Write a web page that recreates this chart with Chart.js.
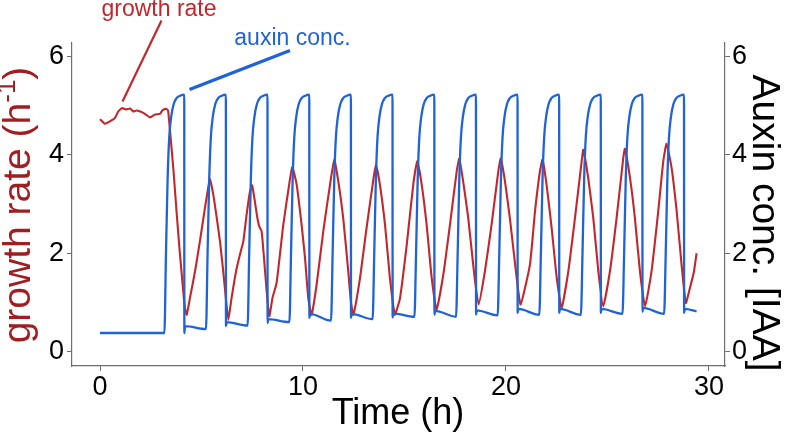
<!DOCTYPE html>
<html>
<head>
<meta charset="utf-8">
<script src="https://cdn.jsdelivr.net/npm/chart.js@4.4.1/dist/chart.umd.min.js"></script>
<style>
  html, body { margin: 0; padding: 0; background: #ffffff; }
  #wrap { width: 787px; height: 435px; position: relative; }
  canvas { display: block; }
</style>
</head>
<body>
<div id="wrap"><canvas id="c" width="787" height="435" style="width:787px;height:435px"></canvas></div>
<script>
// ---------------- data ----------------
const xTicks = [0, 10, 20, 30];
const yTicks = [0, 2, 4, 6];

// growth rate (h^-1), left axis
const growthTime = [
  0.00, 0.24, 0.49, 0.74, 0.90, 1.10, 1.26, 1.48, 1.64, 1.80, 2.05, 2.21, 2.46, 2.71, 2.95, 3.07, 3.20, 3.31, 3.36,
  3.45, 3.61, 3.77, 3.94, 4.10, 4.18, 4.27,
  4.43, 4.68, 4.92, 5.17, 5.38, 5.42,
  5.58, 5.75, 5.91, 6.07, 6.20, 6.32,
  6.48, 6.70, 6.89, 7.06, 7.22, 7.39, 7.49,
  7.63, 7.75, 7.84, 7.96, 8.08, 8.21, 8.34,
  8.50, 8.70, 9.03, 9.27, 9.47,
  9.69, 9.93, 10.10, 10.26, 10.42,
  10.67, 11.00, 11.33, 11.54,
  11.74, 11.98, 12.23, 12.36, 12.48,
  12.81, 13.13, 13.43, 13.59,
  13.79, 14.04, 14.28, 14.42, 14.53,
  14.78, 15.11, 15.43, 15.63,
  15.85, 16.09, 16.34, 16.58,
  16.91, 17.24, 17.57, 17.70,
  17.89, 18.14, 18.42, 18.65,
  18.96, 19.29, 19.62, 19.74,
  19.95, 20.19, 20.49, 20.72,
  21.18, 21.43, 21.67, 21.80,
  22.00, 22.25, 22.50, 22.74,
  23.07, 23.40, 23.73, 23.81,
  24.05, 24.30, 24.55, 24.79,
  25.12, 25.45, 25.78, 25.86,
  26.11, 26.35, 26.60, 26.85,
  27.17, 27.50, 27.75, 27.91,
  28.16, 28.41, 28.65, 28.86,
  29.06, 29.26, 29.39
];
const growthRate = [
  4.72, 4.63, 4.68, 4.75, 4.88, 4.95, 4.92, 4.94, 4.88, 4.90, 4.87, 4.83, 4.76, 4.82, 4.83, 4.90, 4.93, 4.92, 4.88,
  4.48, 3.73, 2.85, 1.97, 1.23, 0.89, 0.75,
  1.09, 1.63, 2.24, 2.92, 3.46, 3.50,
  3.19, 2.72, 2.24, 1.63, 1.09, 0.65,
  1.09, 1.63, 1.97, 2.24, 2.78, 3.26, 3.38,
  3.05, 2.72, 2.55, 2.45, 1.90, 1.23, 0.72,
  1.10, 1.40, 2.58, 3.26, 3.75,
  3.39, 2.58, 1.90, 1.09, 0.75,
  1.36, 2.45, 3.39, 3.90,
  3.46, 2.72, 1.63, 1.02, 0.75,
  1.50, 2.51, 3.39, 3.80,
  3.39, 2.58, 1.50, 1.02, 0.75,
  1.09, 2.17, 3.39, 3.88,
  3.39, 2.58, 1.50, 0.85,
  1.56, 2.58, 3.66, 3.92,
  3.46, 2.72, 1.63, 0.96,
  1.63, 2.58, 3.66, 3.92,
  3.46, 2.72, 1.63, 0.96,
  1.77, 2.85, 3.66, 3.90,
  3.39, 2.51, 1.50, 0.89,
  1.63, 2.72, 3.87, 4.10,
  3.53, 2.72, 1.63, 0.92,
  1.63, 2.72, 3.94, 4.12,
  3.53, 2.72, 1.63, 0.92,
  1.63, 2.85, 3.87, 4.22,
  3.73, 2.85, 1.77, 0.99,
  1.29, 1.63, 2.00
];

// auxin concentration [IAA], right axis
const auxinTime = [
  0.00, 3.17,
  3.25, 3.33, 3.41, 3.51, 3.63, 3.77, 3.95, 4.15, 4.155, 4.19, 5.22,
  5.30, 5.38, 5.46, 5.56, 5.68, 5.82, 6.00, 6.20, 6.205, 6.24, 7.27,
  7.35, 7.43, 7.51, 7.61, 7.73, 7.87, 8.05, 8.25, 8.255, 8.29, 9.33,
  9.41, 9.49, 9.57, 9.67, 9.79, 9.93, 10.11, 10.31, 10.315, 10.35, 11.38,
  11.46, 11.54, 11.62, 11.72, 11.84, 11.98, 12.16, 12.36, 12.365, 12.40, 13.43,
  13.51, 13.59, 13.67, 13.77, 13.89, 14.03, 14.21, 14.41, 14.415, 14.45, 15.49,
  15.57, 15.65, 15.73, 15.83, 15.95, 16.09, 16.27, 16.47, 16.475, 16.51, 17.54,
  17.62, 17.70, 17.78, 17.88, 18.00, 18.14, 18.32, 18.52, 18.525, 18.56, 19.59,
  19.67, 19.75, 19.83, 19.93, 20.05, 20.19, 20.37, 20.57, 20.575, 20.61, 21.64,
  21.72, 21.80, 21.88, 21.98, 22.10, 22.24, 22.42, 22.62, 22.625, 22.66, 23.69,
  23.77, 23.85, 23.93, 24.03, 24.15, 24.29, 24.47, 24.67, 24.675, 24.71, 25.74,
  25.82, 25.90, 25.98, 26.08, 26.20, 26.34, 26.52, 26.72, 26.725, 26.76, 27.79,
  27.87, 27.95, 28.03, 28.13, 28.25, 28.39, 28.57, 28.77, 28.775, 28.81, 29.39
];
const auxinConc = [
  0.38, 0.38,
  2.0, 3.5, 4.35, 4.78, 5.03, 5.15, 5.2, 5.22, 0.38, 0.52, 0.46,
  2.0, 3.5, 4.35, 4.78, 5.03, 5.15, 5.2, 5.22, 0.52, 0.60, 0.53,
  2.0, 3.5, 4.35, 4.78, 5.03, 5.15, 5.2, 5.22, 0.58, 0.66, 0.60,
  2.0, 3.5, 4.35, 4.78, 5.03, 5.15, 5.2, 5.22, 0.69, 0.77, 0.63,
  2.0, 3.5, 4.35, 4.78, 5.03, 5.15, 5.2, 5.22, 0.69, 0.77, 0.66,
  2.0, 3.5, 4.35, 4.78, 5.03, 5.15, 5.2, 5.22, 0.70, 0.78, 0.71,
  2.0, 3.5, 4.35, 4.78, 5.03, 5.15, 5.2, 5.22, 0.75, 0.83, 0.71,
  2.0, 3.5, 4.35, 4.78, 5.03, 5.15, 5.2, 5.22, 0.76, 0.84, 0.74,
  2.0, 3.5, 4.35, 4.78, 5.03, 5.15, 5.2, 5.22, 0.79, 0.87, 0.75,
  2.0, 3.5, 4.35, 4.78, 5.03, 5.15, 5.2, 5.22, 0.79, 0.87, 0.75,
  2.0, 3.5, 4.35, 4.78, 5.03, 5.15, 5.2, 5.22, 0.79, 0.87, 0.77,
  2.0, 3.5, 4.35, 4.78, 5.03, 5.15, 5.2, 5.22, 0.81, 0.89, 0.77,
  2.0, 3.5, 4.35, 4.78, 5.03, 5.15, 5.2, 5.22, 0.79, 0.87, 0.82
];

// ---------------- styling ----------------
const FONT = '"Liberation Sans", Arial, Helvetica, sans-serif';
const RED = '#c1272d';
const RED_TITLE = '#a01e22';
const BLUE = '#1f63d6';
const AXIS = '#6e6e6e';

const pts = (xs, ys) => xs.map((t, i) => ({ x: t, y: ys[i] }));

const annotations = {
  id: 'annotations',
  afterDraw(chart) {
    const ctx = chart.ctx;
    ctx.save();
    // pointer lines
    ctx.lineCap = 'butt';
    ctx.strokeStyle = RED;
    ctx.lineWidth = 2.2;
    ctx.beginPath(); ctx.moveTo(161.5, 20.5); ctx.lineTo(122.5, 101.5); ctx.stroke();
    ctx.strokeStyle = BLUE;
    ctx.lineWidth = 3.4;
    ctx.beginPath(); ctx.moveTo(290, 50.5); ctx.lineTo(189.5, 89.5); ctx.stroke();

    // note texts
    ctx.textAlign = 'center';
    ctx.textBaseline = 'alphabetic';
    ctx.font = '23px ' + FONT;
    ctx.fillStyle = RED;
    ctx.fillText('growth rate', 159, 16);
    ctx.fillStyle = BLUE;
    ctx.fillText('auxin conc.', 292.5, 45);

    // x title
    ctx.fillStyle = '#000';
    ctx.font = '36px ' + FONT;
    ctx.fillText('Time (h)', 398, 424);

    // left title with superscript
    ctx.save();
    ctx.translate(30, 205);
    ctx.rotate(-Math.PI / 2);
    ctx.fillStyle = RED_TITLE;
    const mainF = '39px ' + FONT, supF = '26px ' + FONT;
    ctx.font = mainF; const w1 = ctx.measureText('growth rate (h').width; const w3 = ctx.measureText(')').width;
    ctx.font = supF; const w2 = ctx.measureText('-1').width;
    let sx = -(w1 + w2 + w3) / 2;
    ctx.textAlign = 'left';
    ctx.font = mainF; ctx.fillText('growth rate (h', sx, 0); sx += w1;
    ctx.font = supF; ctx.fillText('-1', sx, -15); sx += w2;
    ctx.font = mainF; ctx.fillText(')', sx, 0);
    ctx.restore();

    // right title
    ctx.save();
    ctx.translate(753, 223);
    ctx.rotate(Math.PI / 2);
    ctx.fillStyle = '#000';
    ctx.textAlign = 'center';
    ctx.font = '39px ' + FONT;
    ctx.fillText('Auxin conc. [IAA]', 0, 0);
    ctx.restore();

    ctx.restore();
  }
};

const tickFont = { family: FONT, size: 27 };
const setTicks = (vals) => (scale) => { scale.ticks = vals.map(v => ({ value: v })); };

new Chart(document.getElementById('c'), {
  type: 'line',
  data: {
    datasets: [
      {
        label: 'auxin conc.',
        data: pts(auxinTime, auxinConc),
        yAxisID: 'y1',
        borderColor: BLUE,
        borderWidth: 2.3,
        pointRadius: 0,
        fill: false,
        cubicInterpolationMode: 'monotone'
      },
      {
        label: 'growth rate',
        data: pts(growthTime, growthRate),
        yAxisID: 'y',
        borderColor: RED,
        borderWidth: 2.1,
        pointRadius: 0,
        fill: false,
        tension: 0.15
      }
    ]
  },
  options: {
    responsive: false,
    animation: false,
    events: [],
    layout: { padding: { top: 43, left: 0, right: 0, bottom: 0 } },
    plugins: { legend: { display: false }, tooltip: { enabled: false }, title: { display: false } },
    scales: {
      x: {
        type: 'linear',
        min: -1.38, max: 30.79,
        afterBuildTicks: setTicks(xTicks),
        afterFit: (s) => { s.height = 69; },
        grid: { drawOnChartArea: false, drawTicks: true, tickLength: 5, color: AXIS, lineWidth: 1 },
        border: { display: true, color: AXIS, width: 1.2 },
        ticks: { font: tickFont, color: '#000', padding: 0, maxRotation: 0, autoSkip: false }
      },
      y: {
        type: 'linear', position: 'left',
        min: -0.29, max: 6.27,
        afterBuildTicks: setTicks(yTicks),
        afterFit: (s) => { s.width = 72; },
        grid: { drawOnChartArea: false, drawTicks: true, tickLength: 5, color: AXIS, lineWidth: 1 },
        border: { display: true, color: AXIS, width: 1.2 },
        ticks: { font: tickFont, color: '#000', padding: 3, autoSkip: false }
      },
      y1: {
        type: 'linear', position: 'right',
        min: -0.29, max: 6.27,
        afterBuildTicks: setTicks(yTicks),
        afterFit: (s) => { s.width = 62; },
        grid: { drawOnChartArea: false, drawTicks: true, tickLength: 5, color: AXIS, lineWidth: 1 },
        border: { display: true, color: AXIS, width: 1.2 },
        ticks: { font: tickFont, color: '#000', padding: 2, autoSkip: false }
      }
    }
  },
  plugins: [annotations]
});
</script>
</body>
</html>
